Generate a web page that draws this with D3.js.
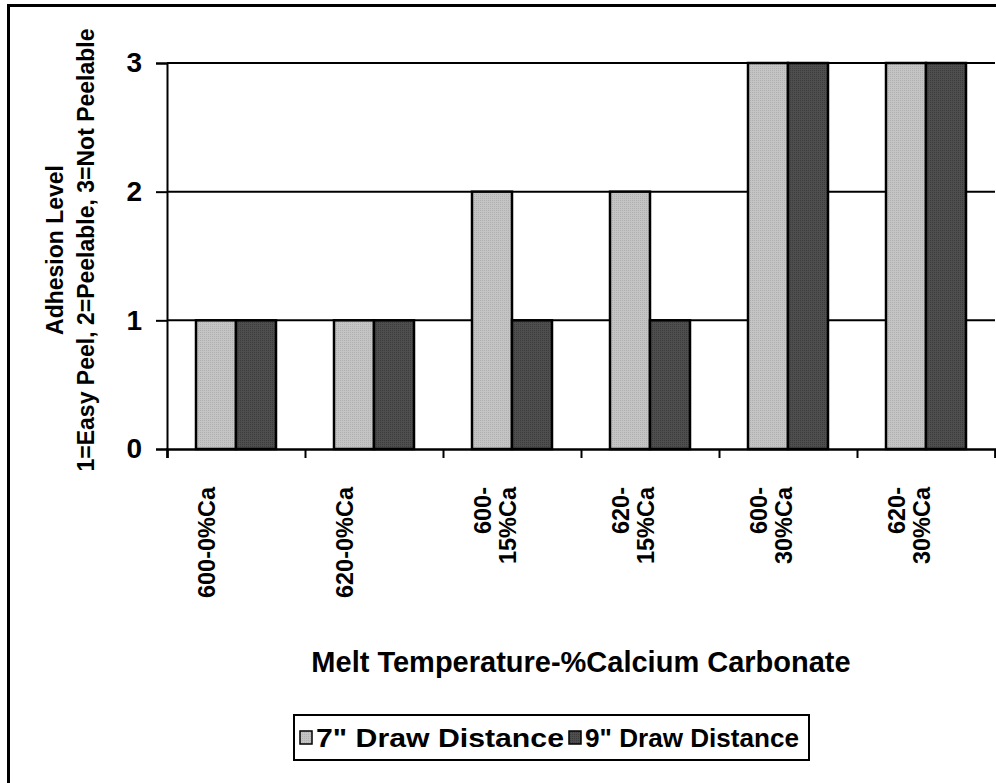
<!DOCTYPE html>
<html><head><meta charset="utf-8">
<script src="https://cdn.jsdelivr.net/npm/d3@7"></script>
<style>body{margin:0;background:#fff}svg{display:block}text{font-family:Arial,"Liberation Sans",sans-serif;font-weight:bold;fill:#000}</style>
</head><body>
<svg id="c" width="996" height="783"></svg>
<script>
const categories = [["600-0%Ca"],["620-0%Ca"],["600-","15%Ca"],["620-","15%Ca"],["600-","30%Ca"],["620-","30%Ca"]];
const seriesNames = ["7\" Draw Distance","9\" Draw Distance"];
const series7 = [1,1,2,2,3,3];
const series9 = [1,1,1,1,3,3];
const yTicks = [0,1,2,3];
const yTitle = ["Adhesion Level","1=Easy Peel, 2=Peelable, 3=Not Peelable"];
const xTitle = "Melt Temperature-%Calcium Carbonate";

const svg = d3.select("#c");
const defs = svg.append("defs");
function pat(id, base, dot){
  const p = defs.append("pattern").attr("id",id).attr("width",2).attr("height",2).attr("patternUnits","userSpaceOnUse");
  p.append("rect").attr("width",2).attr("height",2).attr("fill",base);
  p.append("rect").attr("width",1).attr("height",1).attr("fill",dot);
}
pat("p0","#c4c4c4","#b0b0b0");
pat("p1","#4e4e4e","#3c3c3c");
const fills = ["url(#p0)","url(#p1)"];

// outer frame
svg.append("rect").attr("x",8.5).attr("y",5.5).attr("width",1000).attr("height",800)
  .attr("fill","none").attr("stroke","#000").attr("stroke-width",3);

const L=167, R=995, T=63, B=449;
const x = d3.scaleBand().domain(d3.range(categories.length)).range([L,R]);
const xs = d3.scaleBand().domain([0,1]).range([0,80]);
const y = d3.scaleLinear().domain([0,3]).range([B,T]);

// gridlines
svg.append("g").selectAll("line").data(yTicks.filter(d=>d>0)).join("line")
  .attr("x1",L).attr("x2",R).attr("y1",d=>y(d)).attr("y2",d=>y(d))
  .attr("stroke","#000").attr("stroke-width",2);

// bars
const data = categories.map((c,i)=>[series7[i],series9[i]]);
const g = svg.append("g");
data.forEach((vals,i)=>{
  const cx = x(i) + x.bandwidth()/2 - 40;
  vals.forEach((v,j)=>{
    g.append("rect").attr("x",cx+xs(j)).attr("y",y(v)).attr("width",xs.bandwidth()).attr("height",y(0)-y(v))
      .attr("fill",fills[j]).attr("stroke","#000").attr("stroke-width",2.5);
  });
});

// y axis
const ya = svg.append("g").attr("transform",`translate(${L},0)`)
  .call(d3.axisLeft(y).tickValues(yTicks).tickSize(11).tickPadding(14).tickFormat(d3.format("d")));
ya.select(".domain").attr("stroke","#000").attr("stroke-width",2);
ya.selectAll(".tick line").attr("stroke","#000").attr("stroke-width",2);
ya.selectAll(".tick text").attr("font-size",28).attr("font-family","Arial, 'Liberation Sans', sans-serif").attr("font-weight","bold");

// x axis
const xa = svg.append("g").attr("transform",`translate(0,${B})`)
  .call(d3.axisBottom(d3.scaleLinear().domain([0,6]).range([L,R])).tickValues(d3.range(0,7)).tickSize(9).tickFormat(""));
xa.select(".domain").attr("stroke","#000").attr("stroke-width",2.5);
xa.selectAll(".tick line").attr("stroke","#000").attr("stroke-width",2);

// category labels
categories.forEach((lines,i)=>{
  const cxm = x(i) + x.bandwidth()/2;
  lines.forEach((t,k)=>{
    const lx = cxm - 21 + k*25;
    svg.append("text").attr("transform",`translate(${lx},487) rotate(-90)`)
      .attr("text-anchor","end").attr("font-size",23.5).text(t);
  });
});

// y title
yTitle.forEach((t,k)=>{
  svg.append("text").attr("transform",`translate(${63+k*31},250) rotate(-90)`)
    .attr("text-anchor","middle").attr("font-size",23).text(t);
});

// x title
svg.append("text").attr("x",581).attr("y",672).attr("text-anchor","middle").attr("font-size",29).text(xTitle);

// legend
const lg = svg.append("g");
lg.append("rect").attr("x",294).attr("y",715).attr("width",515).attr("height",45).attr("fill","#fff").attr("stroke","#000").attr("stroke-width",2);
const legX = [300, 569];
seriesNames.forEach((s,j)=>{
  lg.append("rect").attr("x",legX[j]).attr("y",731).attr("width",12).attr("height",13).attr("fill",fills[j]).attr("stroke","#000").attr("stroke-width",1.5);
  lg.append("text").attr("x",legX[j]+16).attr("y",747).attr("font-size",26).attr("textLength", j===0?248:214).attr("lengthAdjust","spacingAndGlyphs").text(s);
});
</script>
</body></html>
